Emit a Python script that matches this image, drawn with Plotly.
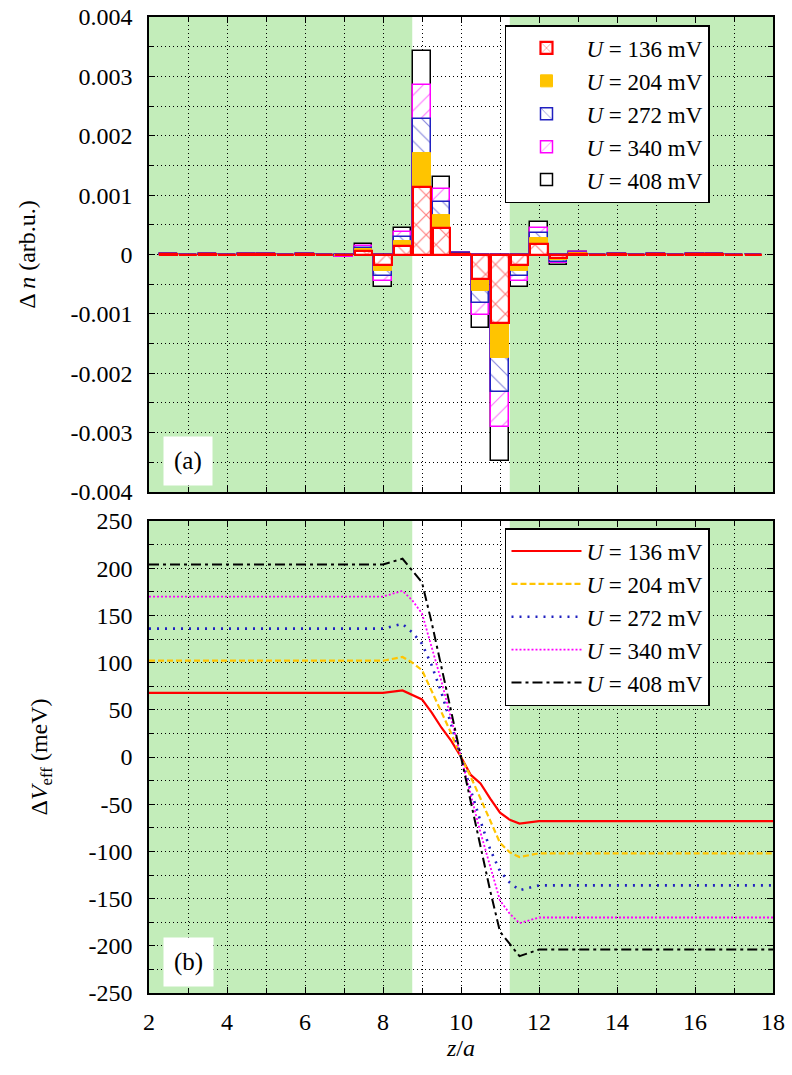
import plotly.graph_objects as go

# ---------------- data ----------------
z_bars = [2.5, 3.0, 3.5, 4.0, 4.5, 5.0, 5.5, 6.0, 6.5, 7.0, 7.5, 8.0, 8.5, 9.0, 9.5, 10.0,
          10.5, 11.0, 11.5, 12.0, 12.5, 13.0, 13.5, 14.0, 14.5, 15.0, 15.5, 16.0, 16.5, 17.0, 17.5]

dn_136 = [0.000004, -0.000003, 0.000003, -0.000002, 0.000003, 0.000005, -0.000003, 0.000002, -0.000004,
          -0.000015, 0.000058, -0.00018, 0.00015, 0.00114, 0.00044, 0.00001, -0.00041, -0.00116,
          -0.00018, 0.00018, -0.00006, 0.000015, -0.000004, 0.000003, -0.000003, 0.000002, -0.000002,
          0.000003, 0.000002, -0.000002, -0.000003]
dn_204 = [0.000006, -0.000005, 0.000005, -0.000003, 0.000005, 0.000008, -0.000005, 0.000003, -0.000006,
          -0.000023, 0.000087, -0.00027, 0.000225, 0.00171, 0.00066, 0.000015, -0.000615, -0.00174,
          -0.00027, 0.00027, -0.00009, 0.000023, -0.000006, 0.000005, -0.000005, 0.000003, -0.000003,
          0.000005, 0.000003, -0.000003, -0.000005]
dn_272 = [0.000008, -0.000006, 0.000006, -0.000004, 0.000006, 0.00001, -0.000006, 0.000004, -0.000008,
          -0.00003, 0.000116, -0.00036, 0.0003, 0.00228, 0.00088, 0.00002, -0.00082, -0.00232,
          -0.00036, 0.00036, -0.00012, 0.00003, -0.000008, 0.000006, -0.000006, 0.000004, -0.000004,
          0.000006, 0.000004, -0.000004, -0.000006]
dn_340 = [0.00001, -0.000008, 0.000008, -0.000005, 0.000008, 0.000013, -0.000008, 0.000005, -0.00001,
          -0.000038, 0.000145, -0.00045, 0.000375, 0.00285, 0.0011, 0.000025, -0.001025, -0.0029,
          -0.00045, 0.00045, -0.00015, 0.000038, -0.00001, 0.000008, -0.000008, 0.000005, -0.000005,
          0.000008, 0.000005, -0.000005, -0.000008]
dn_408 = [0.000012, -0.000009, 0.000009, -0.000006, 0.000009, 0.000015, -0.000009, 0.000006, -0.000012,
          -0.000045, 0.000174, -0.00054, 0.00045, 0.00342, 0.00131, 0.00003, -0.00123, -0.00347,
          -0.00054, 0.00055, -0.00018, 0.000045, -0.000012, 0.000009, -0.000009, 0.000006, -0.000006,
          0.000009, 0.000006, -0.000006, -0.000009]

z_v = [2, 3, 4, 5, 6, 7, 8, 8.5, 8.75, 9.0, 9.25, 9.5, 9.75, 10.0, 10.25, 10.5, 10.75, 11.0,
       11.25, 11.5, 12, 13, 14, 15, 16, 17, 18]
v_136 = [68, 68, 68, 68, 68, 68, 68, 70.5, 66, 61, 47, 31, 17, 0, -19, -28, -44, -59,
         -66.5, -70.5, -68, -68, -68, -68, -68, -68, -68]
v_204 = [102, 102, 102, 102, 102, 102, 102, 106, 100, 92, 70, 48, 25, 0, -21, -44, -67, -91,
         -101, -106, -102, -102, -102, -102, -102, -102, -102]
v_272 = [136, 136, 136, 136, 136, 136, 136, 141, 132, 120, 97, 68, 35, 0, -35, -68, -98, -121,
         -133, -141, -136, -136, -136, -136, -136, -136, -136]
v_340 = [170, 170, 170, 170, 170, 170, 170, 176, 166, 152, 116, 80, 40, 0, -40, -80, -116, -152,
         -166, -176, -170, -170, -170, -170, -170, -170, -170]
v_408 = [204, 204, 204, 204, 204, 204, 204, 210, 197, 185, 142, 96, 48, 0, -48, -96, -142, -185,
         -198, -211, -204, -204, -204, -204, -204, -204, -204]

labels = ["<i>U</i> = 136 mV", "<i>U</i> = 204 mV", "<i>U</i> = 272 mV",
          "<i>U</i> = 340 mV", "<i>U</i> = 408 mV"]

lead_regions = [(2.0, 8.75), (11.25, 18.0)]

x_ticks = [2, 4, 6, 8, 10, 12, 14, 16, 18]
x_minor = [3, 5, 7, 9, 11, 13, 15, 17]
yt_vals = [-0.004, -0.003, -0.002, -0.001, 0, 0.001, 0.002, 0.003, 0.004]
yt_text = ["-0.004", "-0.003", "-0.002", "-0.001", "0", "0.001", "0.002", "0.003", "0.004"]
yt_minor = [-0.0035, -0.0025, -0.0015, -0.0005, 0.0005, 0.0015, 0.0025, 0.0035]
yb_vals = [-250, -200, -150, -100, -50, 0, 50, 100, 150, 200, 250]
yb_text = ["-250", "-200", "-150", "-100", "-50", "0", "50", "100", "150", "200", "250"]
yb_minor = [-225, -175, -125, -75, -25, 25, 75, 125, 175, 225]

# ---------------- style ----------------
FONT = "Liberation Serif, DejaVu Serif, serif"
RED = "#ff0000"
ORANGE = "#ffc400"
BLUE = "#2020c0"
MAGENTA = "#ff00ff"
BLACK = "#000000"
GREEN = "#c3edba"

fig = go.Figure()

bar_w = 0.44
# drawn back to front: 408 at the back, 136 in front
fig.add_trace(go.Bar(x=z_bars, y=dn_408, width=bar_w, name=labels[4], legend="legend",
                     marker=dict(color="white", line=dict(color=BLACK, width=1.5)),
                     xaxis="x", yaxis="y"))
fig.add_trace(go.Bar(x=z_bars, y=dn_340, width=bar_w, name=labels[3], legend="legend",
                     marker=dict(color="white", line=dict(color=MAGENTA, width=1.5),
                                 pattern=dict(shape="/", fgcolor=MAGENTA, bgcolor="white",
                                              size=11, solidity=0.1, fgopacity=0.55)),
                     xaxis="x", yaxis="y"))
fig.add_trace(go.Bar(x=z_bars, y=dn_272, width=bar_w, name=labels[2], legend="legend",
                     marker=dict(color="white", line=dict(color=BLUE, width=1.5),
                                 pattern=dict(shape="\\", fgcolor=BLUE, bgcolor="white",
                                              size=11, solidity=0.1, fgopacity=0.55)),
                     xaxis="x", yaxis="y"))
fig.add_trace(go.Bar(x=z_bars, y=dn_204, width=bar_w, name=labels[1], legend="legend",
                     marker=dict(color=ORANGE, line=dict(color=ORANGE, width=1)),
                     xaxis="x", yaxis="y"))
fig.add_trace(go.Bar(x=z_bars, y=dn_136, width=bar_w, name=labels[0], legend="legend",
                     marker=dict(color="white", line=dict(color=RED, width=2.2),
                                 pattern=dict(shape="x", fgcolor=RED, bgcolor="white",
                                              size=14, solidity=0.16)),
                     xaxis="x", yaxis="y"))

line_specs = [
    (v_136, labels[0], RED, "solid", 2.2),
    (v_204, labels[1], ORANGE, "6px,3px", 2.2),
    (v_272, labels[2], BLUE, "2px,6px", 2.6),
    (v_340, labels[3], MAGENTA, "2px,2px", 1.8),
    (v_408, labels[4], BLACK, "10px,4px,3px,4px", 2.0),
]
for vals, name, col, dash, w in line_specs:
    fig.add_trace(go.Scatter(x=z_v, y=vals, mode="lines", name=name, legend="legend2",
                             line=dict(color=col, dash=dash, width=w),
                             xaxis="x2", yaxis="y2"))

# lead (green) regions
for yref in ("y domain", "y2 domain"):
    xr = "x" if yref.startswith("y ") else "x2"
    for x0, x1 in lead_regions:
        fig.add_shape(type="rect", xref=xr, yref=yref, x0=x0, x1=x1, y0=0, y1=1,
                      fillcolor=GREEN, line=dict(width=0), layer="below")

axis_common = dict(showline=True, linecolor="black", linewidth=1.5, mirror="allticks",
                   ticks="inside", ticklen=6, tickcolor="black", tickwidth=1,
                   zeroline=False, automargin=False,
                   tickfont=dict(family=FONT, size=24, color="black"),
                   showgrid=True, gridcolor="black", gridwidth=1, griddash="1px,3px")
minor_common = dict(ticks="inside", ticklen=5, tickcolor="black", tickwidth=1,
                    showgrid=True, gridcolor="black", gridwidth=1, griddash="1px,3px")

legend_common = dict(x=0.5705, xanchor="left", yanchor="top", bgcolor="white",
                     bordercolor="black", borderwidth=1.5,
                     font=dict(family=FONT, size=23, color="black"), tracegroupgap=0,
                     itemwidth=70, entrywidthmode="pixels", entrywidth=170)

fig.update_layout(
    width=792, height=1075,
    margin=dict(l=149, r=19, t=17, b=82, autoexpand=False),
    paper_bgcolor="white", plot_bgcolor="white",
    barmode="overlay", bargap=0,
    showlegend=True,
    font=dict(family=FONT, size=24, color="black"),
    xaxis=dict(domain=[0, 1], anchor="y", range=[2, 18], tickmode="array", tickvals=x_ticks,
               showticklabels=False, matches="x2",
               minor=dict(tickmode="array", tickvals=x_minor, **minor_common), **axis_common),
    yaxis=dict(domain=[0.5133, 1.0], anchor="x", range=[-0.004, 0.004], tickmode="array",
               tickvals=yt_vals, ticktext=yt_text, ticklabelstandoff=10,
               minor=dict(tickmode="array", tickvals=yt_minor, **minor_common),
               title=dict(text="Δ <i>n</i> (arb.u.)", standoff=28,
                          font=dict(family=FONT, size=24)),
               **axis_common),
    xaxis2=dict(domain=[0, 1], anchor="y2", range=[2, 18], tickmode="array", tickvals=x_ticks,
                ticktext=[str(v) for v in x_ticks], ticklabelstandoff=6,
                minor=dict(tickmode="array", tickvals=x_minor, **minor_common),
                title=dict(text="<i>z</i>/<i>a</i>", standoff=4, font=dict(family=FONT, size=24)),
                **axis_common),
    yaxis2=dict(domain=[0, 0.4836], anchor="x2", range=[-250, 250], tickmode="array",
                tickvals=yb_vals, ticktext=yb_text, ticklabelstandoff=10,
                minor=dict(tickmode="array", tickvals=yb_minor, **minor_common),
                title=dict(text="Δ<i>V</i><sub>eff</sub> (meV)", standoff=34,
                           font=dict(family=FONT, size=24)),
                **axis_common),
    legend=dict(y=0.9918, traceorder="reversed", **legend_common),
    legend2=dict(y=0.4764, traceorder="normal", **legend_common),
)

fig.add_annotation(text="(a)", xref="x domain", yref="y domain", x=0.0625, y=0.065,
                   xanchor="center", yanchor="middle",
                   showarrow=False, bgcolor="white", borderpad=10,
                   font=dict(family=FONT, size=25, color="black"))
fig.add_annotation(text="(b)", xref="x2 domain", yref="y2 domain", x=0.0625, y=0.066,
                   xanchor="center", yanchor="middle",
                   showarrow=False, bgcolor="white", borderpad=10,
                   font=dict(family=FONT, size=25, color="black"))

fig.write_html("out.html")
